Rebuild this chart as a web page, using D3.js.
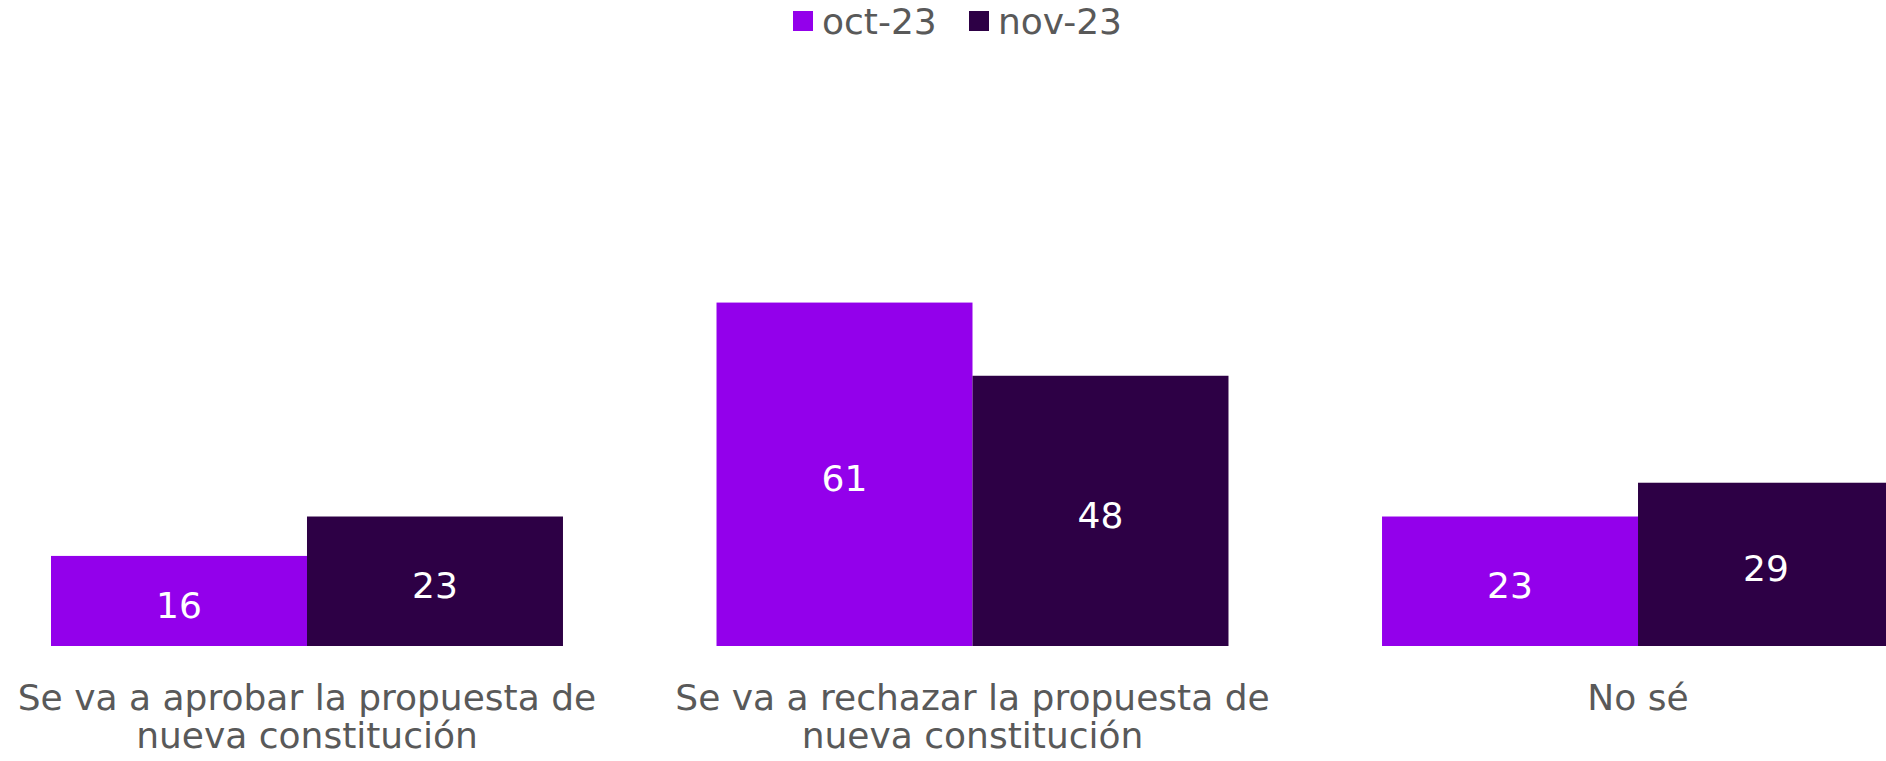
<!DOCTYPE html>
<html lang="es">
<head>
<meta charset="utf-8">
<title>Propuesta de nueva constitución</title>
<script src="https://cdn.jsdelivr.net/npm/d3@7"></script>
<style>
  html, body {
    margin: 0;
    padding: 0;
    background: #ffffff;
  }
  svg {
    display: block;
  }
  svg text {
    font-family: "DejaVu Sans", sans-serif;
  }
  .axis text {
    fill: #595959;
    font-size: 36px;
  }
  .legend text {
    fill: #595959;
    font-size: 36px;
  }
  .value {
    fill: #ffffff;
    font-size: 36px;
  }
</style>
</head>
<body>
<script>
  // data
  const categories = [
    "Se va a aprobar la propuesta de nueva constitución",
    "Se va a rechazar la propuesta de nueva constitución",
    "No sé"
  ]
  const seriesNames = ["oct-23", "nov-23"]
  const octValues = [16, 61, 23]
  const novValues = [23, 48, 29]
  const colors = ["#9300eb", "#2d0045"]

  let w = 1886
  let h = 761
  let baseline = 646

  // one row per category, built from the arrays above
  let rows = categories.map((c, i) => ({
    cat: c,
    vals: [octValues[i], novValues[i]]
  }))

  let svg = d3.select("body")
    .append("svg")
    .attr("width", w)
    .attr("height", h)

  // the last group runs past the right edge, like in the original
  let x0 = d3.scaleBand()
    .domain(categories)
    .range([51, 1894])
    .paddingInner(0.2307)
    .paddingOuter(0)

  let x1 = d3.scaleBand()
    .domain(seriesNames)
    .range([0, x0.bandwidth()])

  let y = d3.scaleLinear()
    .domain([0, 100])
    .range([baseline, 83])

  let groups = svg.selectAll(".group")
    .data(rows)
    .enter()
    .append("g")
    .attr("class", "group")
    .attr("transform", d => "translate(" + x0(d.cat) + ",0)")

  groups.selectAll("rect")
    .data(d => d.vals.map((v, j) => ({ name: seriesNames[j], v: v, j: j })))
    .enter()
    .append("rect")
    .attr("x", d => x1(d.name))
    .attr("y", d => y(d.v))
    .attr("width", x1.bandwidth())
    .attr("height", d => y(0) - y(d.v))
    .attr("fill", d => colors[d.j])

  groups.selectAll(".value")
    .data(d => d.vals.map((v, j) => ({ name: seriesNames[j], v: v })))
    .enter()
    .append("text")
    .attr("class", "value")
    .attr("text-anchor", "middle")
    .attr("x", d => x1(d.name) + x1.bandwidth() / 2)
    .attr("y", d => (y(d.v) + y(0)) / 2 + 4)
    .attr("dy", "0.36em")
    .text(d => d.v)

  // category labels
  let xAxis = d3.axisBottom(x0)
    .tickSize(0)
    .tickPadding(0)

  let axisG = svg.append("g")
    .attr("class", "axis")
    .attr("transform", "translate(0," + baseline + ")")
    .call(xAxis)
    .attr("font-family", null)
    .attr("font-size", null)

  axisG.select(".domain").remove()
  axisG.selectAll("text")
    .attr("y", 64)
    .attr("dy", 0)
    .call(wrap, 640)

  function wrap(texts, width) {
    texts.each(function() {
      let text = d3.select(this)
      let words = text.text().split(/\s+/)
      let line = []
      let lineNo = 0
      let yPos = text.attr("y")
      let tspan = text.text(null).append("tspan").attr("x", 0).attr("y", yPos)
      words.forEach(word => {
        line.push(word)
        tspan.text(line.join(" "))
        if (tspan.node().getComputedTextLength() > width && line.length > 1) {
          line.pop()
          tspan.text(line.join(" "))
          line = [word]
          lineNo++
          tspan = text.append("tspan")
            .attr("x", 0)
            .attr("y", +yPos + lineNo * 38)
            .text(word)
        }
      })
    })
  }

  // legend
  let legend = svg.append("g")
    .attr("class", "legend")
    .attr("transform", "translate(793,0)")

  let legendX = [0, 176]
  let items = legend.selectAll("g")
    .data(seriesNames)
    .enter()
    .append("g")
    .attr("transform", (d, i) => "translate(" + legendX[i] + ",0)")

  items.append("rect")
    .attr("y", 11)
    .attr("width", 20)
    .attr("height", 20)
    .attr("fill", (d, i) => colors[i])

  items.append("text")
    .attr("x", 29)
    .attr("y", 34)
    .text(d => d)
</script>
</body>
</html>
